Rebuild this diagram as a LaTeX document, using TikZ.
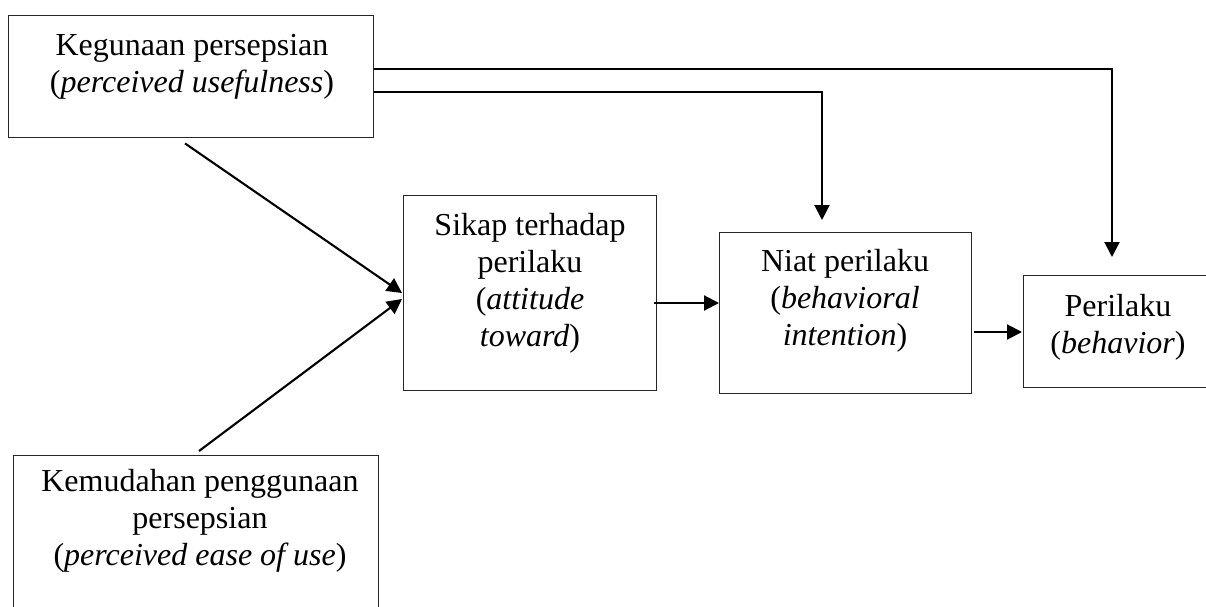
\documentclass[tikz,border=0pt]{standalone}
\usepackage{fontspec}
\setmainfont{Liberation Serif}
\usetikzlibrary{arrows.meta,calc}
\begin{document}
\begin{tikzpicture}[x=0.5pt,y=-0.5pt,
  box/.style={draw=black!85,line width=0.7pt,rectangle,inner sep=0pt,anchor=north west},
  txt/.style={align=center,inner sep=0pt,anchor=north,font=\fontsize{16}{18.4}\selectfont},
  conn/.style={draw=black,line width=1.05pt,-{Triangle[length=7.5pt,width=7.5pt]}}]
\useasboundingbox (0,0) rectangle (1206,606);
\clip (0,0) rectangle (1206,606);
\fill[white] (0,0) rectangle (1206,606);
% boxes
\node[box,minimum width=182.5pt,minimum height=61pt] (k) at (8,15) {};
\node[box,minimum width=126.5pt,minimum height=97.5pt] (s) at (403,195) {};
\node[box,minimum width=126pt,minimum height=80.5pt] (n) at (719,232) {};
\node[box,minimum width=95pt,minimum height=56pt] (p) at (1023,275) {};
\node[box,minimum width=182.5pt,minimum height=100pt] (m) at (13,455) {};
% texts
\node[txt] (tk) at ($(k.north west)+(184,19)$) {Kegunaan persepsian\\(\textit{perceived usefulness})};
\node[txt] (ts) at ($(s.north west)+(127,18)$) {Sikap terhadap\\perilaku\\(\textit{attitude}\\\textit{toward})};
\node[txt] (tn) at ($(n.north west)+(126,17)$) {Niat perilaku\\(\textit{behavioral}\\\textit{intention})};
\node[txt] (tp) at ($(p.north west)+(95,19)$) {Perilaku\\(\textit{behavior})};
\node[txt] (tm) at ($(m.north west)+(187,14)$) {Kemudahan penggunaan\\persepsian\\(\textit{perceived ease of use})};
% connectors
\draw[conn] ($(k.north east)+(0,54)$) -| ($(p.north west)+(89,-18)$);
\draw[conn] ($(k.north east)+(0,77)$) -| ($(n.north west)+(103,-12)$);
\draw[conn] ($(k.south west)+(177,5)$) -- ($(s.north west)+(-1,98)$);
\draw[conn] ($(m.north west)+(186,-4)$) -- ($(s.north west)+(-1,104)$);
\draw[conn] ($(s.north east)+(-3,108)$) -- ($(n.north west)+(0,71)$);
\draw[conn] ($(n.north east)+(2,100)$) -- ($(p.north west)+(-1,57)$);
\end{tikzpicture}
\end{document}
